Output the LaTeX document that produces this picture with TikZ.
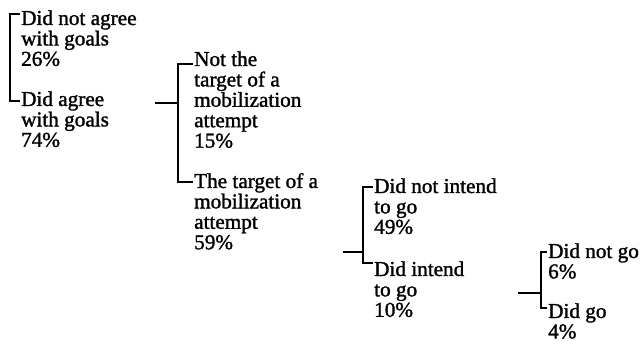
\documentclass[tikz,border=0pt]{standalone}
\usepackage{fontspec}
\setmainfont{Liberation Serif}
\newfontfamily\heavyfont{Liberation Serif}[FakeBold=1.4]
\newcommand\txtstack[1]{\vtop{\baselineskip=20.4pt\lineskiplimit=-20pt\halign{##\hfil\cr#1\crcr}}}
\begin{document}
\begin{tikzpicture}[x=1pt,y=-1pt,
  lbl/.style={anchor=base west,inner sep=0pt,font=\heavyfont\fontsize{21.2}{20.4}\selectfont},
  brk/.style={line width=2.2pt},
  stem/.style={line width=1.5pt}]
\useasboundingbox (0,0) rectangle (640,344);
% column 1
\node[lbl] (n1) at (21,25) {\txtstack{Did not agree\cr with goals\cr 26\%}};
\node[lbl] (n2) at (21,106) {\txtstack{Did agree\cr with goals\cr 74\%}};
% column 2
\node[lbl] (n3) at (194,66) {\txtstack{Not the\cr target of a\cr mobilization\cr attempt\cr 15\%}};
\node[lbl] (n4) at (194,188) {\txtstack{The target of a\cr mobilization\cr attempt\cr 59\%}};
% column 3
\node[lbl] (n5) at (374,193) {\txtstack{Did not intend\cr to go\cr 49\%}};
\node[lbl] (n6) at (374,276) {\txtstack{Did intend\cr to go\cr 10\%}};
% column 4
\node[lbl] (n7) at (548,258) {\txtstack{Did not go\cr 6\%}};
\node[lbl] (n8) at (548,318) {\txtstack{Did go\cr 4\%}};
% bracket 1
\coordinate (b1t) at (10,14);
\coordinate (b1b) at (10,101);
\draw[brk] ([xshift=-1pt]n1.west |- b1t) -- (b1t) -- (b1b) -- ([xshift=-1pt]n2.west |- b1b);
% bracket 2
\coordinate (b2t) at (178,64);
\coordinate (b2b) at (178,182);
\coordinate (b2s) at (178,103);
\coordinate (s2) at (155,103);
\draw[brk] ([xshift=-1pt]n3.west |- b2t) -- (b2t) -- (b2b) -- ([xshift=-1pt]n4.west |- b2b);
\draw[stem] (s2) -- (b2s);
% bracket 3
\coordinate (b3t) at (363,187);
\coordinate (b3b) at (363,263);
\coordinate (b3s) at (363,252);
\coordinate (s3) at (343,252);
\draw[brk] ([xshift=-1pt]n5.west |- b3t) -- (b3t) -- (b3b) -- ([xshift=-1pt]n6.west |- b3b);
\draw[stem] (s3) -- (b3s);
% bracket 4
\coordinate (b4t) at (541,252);
\coordinate (b4b) at (541,308);
\coordinate (b4s) at (541,293);
\coordinate (s4) at (518,293);
\draw[brk] ([xshift=-1pt]n7.west |- b4t) -- (b4t) -- (b4b) -- ([xshift=-1pt]n8.west |- b4b);
\draw[stem] (s4) -- (b4s);
\end{tikzpicture}
\end{document}
